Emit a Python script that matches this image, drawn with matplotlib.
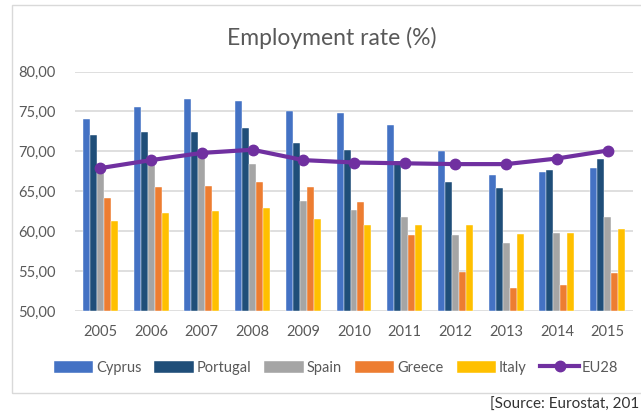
import matplotlib
matplotlib.use("Agg")
import matplotlib.pyplot as plt
import numpy as np
from matplotlib.ticker import FuncFormatter, MultipleLocator
from matplotlib.patches import Rectangle

years = ["2005", "2006", "2007", "2008", "2009", "2010", "2011", "2012", "2013", "2014", "2015"]
cyprus = [74.1, 75.6, 76.6, 76.3, 75.1, 74.8, 73.3, 70.0, 67.0, 67.4, 67.9]
portugal = [72.1, 72.4, 72.4, 72.9, 71.1, 70.2, 68.8, 66.2, 65.4, 67.6, 69.0]
spain = [67.4, 69.0, 69.5, 68.4, 63.8, 62.6, 61.8, 59.5, 58.5, 59.8, 61.8]
greece = [64.2, 65.5, 65.7, 66.2, 65.5, 63.6, 59.5, 54.9, 52.9, 53.2, 54.8]
italy = [61.3, 62.3, 62.5, 62.9, 61.5, 60.8, 60.8, 60.8, 59.6, 59.8, 60.3]
eu28 = [67.9, 68.9, 69.8, 70.2, 68.9, 68.6, 68.5, 68.4, 68.4, 69.1, 70.1]

bar_names = ["Cyprus", "Portugal", "Spain", "Greece", "Italy"]
bar_data = [cyprus, portugal, spain, greece, italy]
bar_colors = ["#4472C4", "#1F4E79", "#A5A5A5", "#ED7D31", "#FFC000"]
line_color = "#7030A0"

plt.rcParams['font.family'] = ['Lato', 'DejaVu Sans']

fig = plt.figure(figsize=(6.41, 4.13), dpi=100)
# outer chart border
fig.patches.append(Rectangle((12/641, 20/413), 640/641, 388/413, transform=fig.transFigure,
                             fill=False, edgecolor="#D9D9D9", linewidth=1.0))

ax = fig.add_axes([75/641, (413-311)/413, (633-75)/641, (311-71.5)/413])
x = np.arange(len(years))
w = 0.1375
bar_handles = []
for i, (name, vals, c) in enumerate(zip(bar_names, bar_data, bar_colors)):
    b = ax.bar(x + (i - 2) * w, np.array(vals) - 50, width=w, bottom=50, color=c,
               edgecolor="white", linewidth=0.3, label=name, zorder=2)
    bar_handles.append(b)
line, = ax.plot(x, eu28, color=line_color, linewidth=3, marker="o", markersize=7.5,
                label="EU28", zorder=3)

ax.set_xlim(-0.5, len(years) - 0.5)
ax.set_ylim(50, 80)
ax.yaxis.set_major_locator(MultipleLocator(5))
ax.yaxis.set_major_formatter(FuncFormatter(lambda v, p: f"{v:.2f}".replace(".", ",")))
ax.set_xticks(x)
ax.set_xticklabels(years)
ax.tick_params(axis="both", length=0, labelsize=10.5, colors="#595959")
ax.tick_params(axis="y", pad=14)
ax.tick_params(axis="x", pad=10)
for s in ax.spines.values():
    s.set_visible(False)
ax.grid(axis="y", color="#D9D9D9", linewidth=1.2, zorder=0)
ax.set_axisbelow(True)

fig.text(332/641, 1 - 38/413, "Employment rate (%)", ha="center", va="center",
         fontsize=16.5, color="#595959")

handles = bar_handles + [line]
labels = bar_names + ["EU28"]
leg = fig.legend(handles, labels, loc="center", bbox_to_anchor=(336/641, 1 - 368/413),
                 ncol=6, frameon=False, fontsize=10.5, handlelength=2.7, handleheight=0.9,
                 handletextpad=0.2, columnspacing=0.9, labelcolor="#595959")

fig.text(639/641, 1 - 405/413, "[Source: Eurostat, 201", ha="right", va="center",
         fontsize=11, color="#333333")

fig.savefig("out.png", dpi=100)
